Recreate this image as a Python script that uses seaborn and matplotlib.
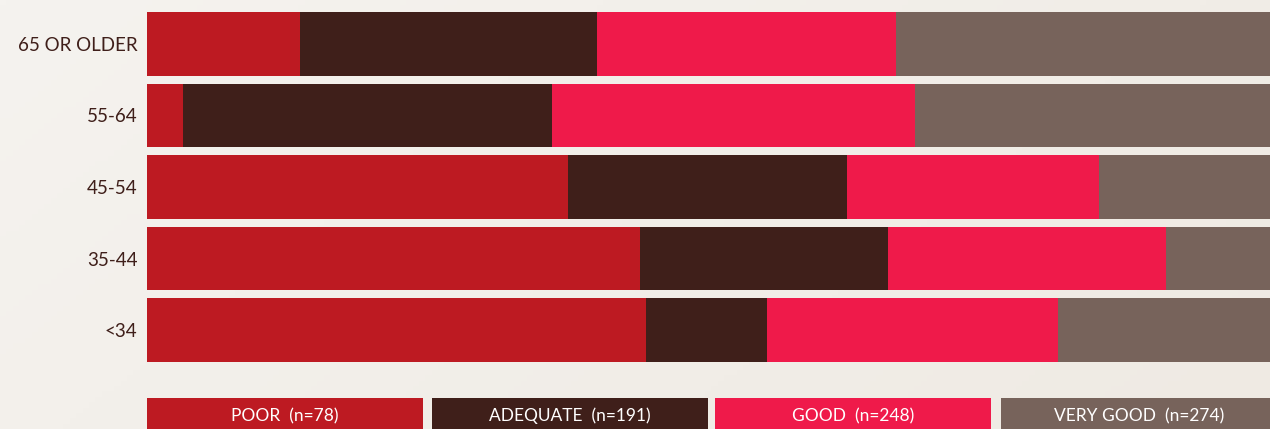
import matplotlib
matplotlib.use("Agg")
import matplotlib.pyplot as plt
import seaborn as sns
import pandas as pd
import numpy as np
from matplotlib.patches import Rectangle

categories = ["65 OR OLDER", "55-64", "45-54", "35-44", "<34"]
series_names = ["POOR", "ADEQUATE", "GOOD", "VERY GOOD"]
series_n = [78, 191, 248, 274]
poor = [13.6, 3.2, 37.5, 43.9, 44.4]
adequate = [26.5, 32.9, 24.8, 22.1, 10.8]
good = [26.6, 32.3, 22.5, 24.7, 25.9]
very_good = [33.3, 31.6, 15.2, 9.3, 18.9]
colors = ["#bd1a22", "#3f1f1a", "#ef1a4a", "#77635b"]

sns.set_theme(style="white")
plt.rcParams["font.family"] = ["Lato", "DejaVu Sans"]

bg = "#f3f0eb"
fig = plt.figure(figsize=(12.7, 4.29), dpi=100, facecolor=bg)

# subtle background gradient
bgax = fig.add_axes([0, 0, 1, 1], zorder=-10)
gx, gy = np.meshgrid(np.linspace(0, 1, 200), np.linspace(0, 1, 80))
grad = (gx * 0.7 + gy * 0.3)
c0 = np.array([0xf5, 0xf3, 0xef]) / 255
c1 = np.array([0xef, 0xea, 0xe3]) / 255
img = c0[None, None, :] * (1 - grad[..., None]) + c1[None, None, :] * grad[..., None]
bgax.imshow(img, aspect="auto", extent=[0, 1, 0, 1], origin="upper")
bgax.set_axis_off()

W, H = 1270, 429
top, bottom = 8.25, 365.75
ax = fig.add_axes([147 / W, 1 - bottom / H, 1 - 147 / W, (bottom - top) / H])
ax.set_facecolor("none")

vals = np.array([poor, adequate, good, very_good])
cum = np.cumsum(vals, axis=0)
for i in range(3, -1, -1):
    df = pd.DataFrame({"category": categories, "value": cum[i]})
    sns.barplot(data=df, x="value", y="category", orient="h", color=colors[i],
                width=0.895, saturation=1, ax=ax, linewidth=0, order=categories)

ax.set_xlim(0, 100)
ax.set_ylim(4.5, -0.5)
ax.set_xlabel("")
ax.set_ylabel("")
ax.set_xticks([])
for s in ax.spines.values():
    s.set_visible(False)
ax.tick_params(axis="y", length=0, pad=7, labelsize=13.5, labelcolor="#3f1f1a")

# legend boxes
box_x = [147, 432, 715, 1001]
box_w = 276
for i, name in enumerate(series_names):
    x0 = box_x[i]
    w = min(box_w, W - x0)
    fig.patches.append(Rectangle((x0 / W, 0), w / W, (H - 398) / H,
                                 transform=fig.transFigure, color=colors[i], lw=0))
    fig.text((x0 + box_w / 2) / W, 1 - 416 / H, f"{name}  (n={series_n[i]})",
             color="white", ha="center", va="center", fontsize=12.5)

fig.savefig("out.png", dpi=100, facecolor=bg)
